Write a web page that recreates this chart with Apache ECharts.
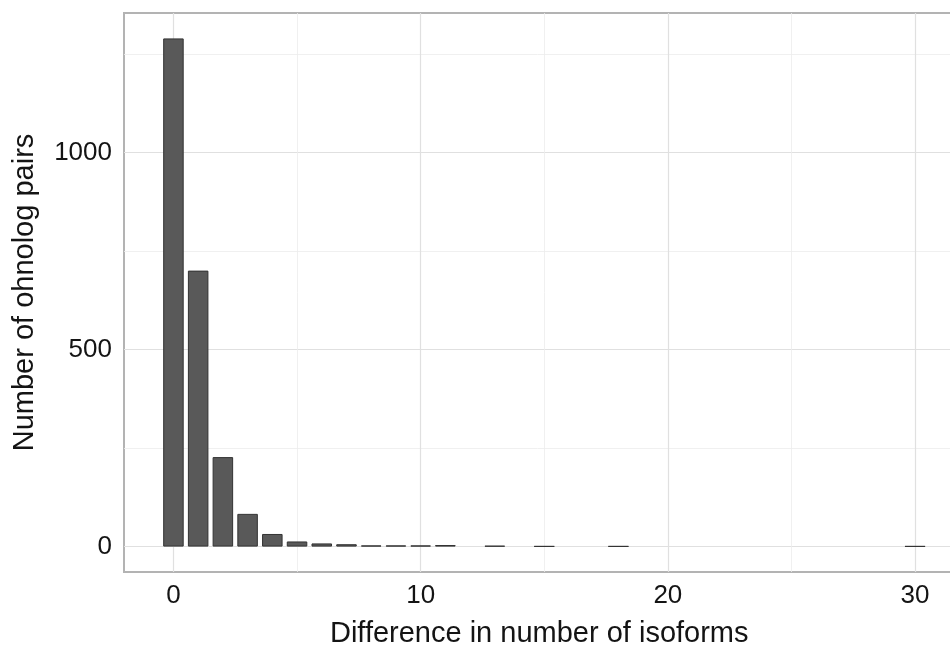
<!DOCTYPE html>
<html>
<head>
<meta charset="utf-8">
<script src="https://cdn.jsdelivr.net/npm/echarts@6/dist/echarts.min.js"></script>
<style>
html,body{margin:0;padding:0;background:#fff;}
#chart{width:950px;height:649px;}
</style>
</head>
<body>
<div id="chart"></div>
<script>
// ---- data ----
var isoformDiff = [0, 1, 2, 3, 4, 5, 6, 7, 8, 9, 10, 11, 13, 15, 18, 30];
var pairCounts  = [1289, 700, 227, 83, 32, 13, 8, 6, 3, 3, 3, 4, 2, 1, 1, 1];
var xTickLabels = [0, 10, 20, 30];
var yTickLabels = [0, 500, 1000];
var xTitle = 'Difference in number of isoforms';
var yTitle = 'Number of ohnolog pairs';

// ---- layout ----
var W = 950, H = 649;
var xMin = -2, xMax = 32;
var yMin = -64.45, yMax = 1353.45;
var panelLeft = 124, panelTop = 13, panelBottom = 572;
var unit = 24.72;                       // px per x unit
var panelWidth = (xMax - xMin) * unit;
var panelHeight = panelBottom - panelTop;
var yUnit = panelHeight / (yMax - yMin);
var y0px = panelBottom + yMin * yUnit;  // pixel of value 0
var x0px = panelLeft - xMin * unit;     // pixel of value 0

var font = '"Liberation Sans", Arial, sans-serif';
var textColor = '#141414';
var majorGrid = '#e0e0e0', minorGrid = '#ececec';

var chart = echarts.init(document.getElementById('chart'), null, {renderer: 'canvas'});
var data = isoformDiff.map(function (x, i) { return [x, pairCounts[i]]; });

chart.setOption({
  animation: false,
  backgroundColor: '#ffffff',
  grid: [
    // 0: main panel (bars, border)
    {left: panelLeft, top: panelTop, width: panelWidth, height: panelHeight,
     outerBoundsMode: 'none', containLabel: false,
     show: true, borderColor: '#b3b3b3', borderWidth: 2, backgroundColor: 'transparent', z: 0},
    // 1: x gridlines + labels (0..30)
    {left: x0px, width: 30 * unit, top: panelTop, height: panelHeight,
     outerBoundsMode: 'none', containLabel: false, show: false},
    // 2: y gridlines + labels (0..1500)
    {left: panelLeft, width: panelWidth, top: y0px - 1500 * yUnit, height: 1500 * yUnit,
     outerBoundsMode: 'none', containLabel: false, show: false}
  ],
  xAxis: [
    {gridIndex: 0, type: 'value', min: xMin, max: xMax,
     axisLine: {show: false}, axisTick: {show: false}, axisLabel: {show: false}, splitLine: {show: false},
     name: xTitle, nameLocation: 'middle', nameGap: 47,
     nameTextStyle: {fontFamily: font, fontSize: 29, color: textColor, padding: [0, 10, 0, 0]}},
    {gridIndex: 1, type: 'value', min: 0, max: 30, interval: 10,
     axisLine: {show: false}, axisTick: {show: false},
     axisLabel: {fontFamily: font, fontSize: 26, color: textColor, margin: 11,
       formatter: function (v) { return xTickLabels.indexOf(v) >= 0 ? String(v) : ''; }},
     splitLine: {show: true, lineStyle: {color: majorGrid, width: 1.2}},
     minorTick: {show: false, splitNumber: 2},
     minorSplitLine: {show: true, lineStyle: {color: minorGrid, width: 0.8}}},
    {gridIndex: 2, type: 'value', min: xMin, max: xMax, show: false, splitLine: {show: false}}
  ],
  yAxis: [
    {gridIndex: 0, type: 'value', min: yMin, max: yMax,
     axisLine: {show: false}, axisTick: {show: false}, axisLabel: {show: false}, splitLine: {show: false},
     name: yTitle, nameLocation: 'middle', nameGap: 85,
     nameTextStyle: {fontFamily: font, fontSize: 29, color: textColor}},
    {gridIndex: 1, type: 'value', min: 0, max: 100, show: false, splitLine: {show: false}},
    {gridIndex: 2, type: 'value', min: 0, max: 1500, interval: 500,
     axisLine: {show: false}, axisTick: {show: false},
     axisLabel: {fontFamily: font, fontSize: 26, color: textColor, margin: 12,
       formatter: function (v) { return yTickLabels.indexOf(v) >= 0 ? String(v) : ''; }},
     splitLine: {show: true, lineStyle: {color: majorGrid, width: 1.2}},
     minorTick: {show: false, splitNumber: 2},
     minorSplitLine: {show: true, lineStyle: {color: minorGrid, width: 0.8}}}
  ],
  series: [{
    type: 'bar',
    xAxisIndex: 0, yAxisIndex: 0,
    data: data,
    barWidth: 0.83 * unit,
    itemStyle: {color: '#595959', borderColor: '#333333', borderWidth: 1},
    z: 5
  }]
});
</script>
</body>
</html>
